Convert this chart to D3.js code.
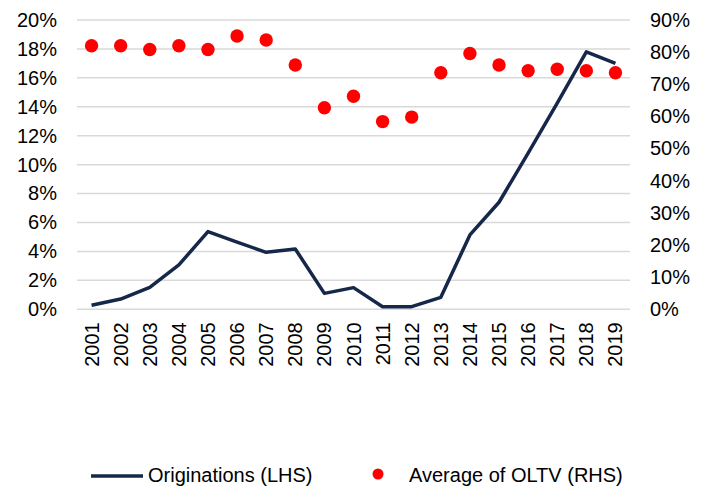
<!DOCTYPE html>
<html>
<head>
<meta charset="utf-8">
<script src="https://cdn.jsdelivr.net/npm/d3@7"></script>
<style>
  body { margin: 0; background: white; }
  text { font-family: "Liberation Sans", Arial, sans-serif; fill: #000; }
</style>
</head>
<body>
<div id="chart"></div>
<script>
const years = ["2001", "2002", "2003", "2004", "2005", "2006", "2007", "2008", "2009", "2010",
  "2011", "2012", "2013", "2014", "2015", "2016", "2017", "2018", "2019"];

// originations, share (left axis)
const originations = [0.0028, 0.0071, 0.0152, 0.0307, 0.0537, 0.0464, 0.0394, 0.0417, 0.011, 0.015,
  0.0018, 0.0018, 0.0083, 0.0514, 0.074, 0.108, 0.1426, 0.178, 0.170];

// average OLTV (right axis)
const avgOltv = [0.82, 0.82, 0.808, 0.82, 0.808, 0.85, 0.838, 0.76, 0.627, 0.663,
  0.584, 0.598, 0.736, 0.796, 0.76, 0.742, 0.747, 0.742, 0.736];

const leftTicks = [0, 0.02, 0.04, 0.06, 0.08, 0.1, 0.12, 0.14, 0.16, 0.18, 0.2];
const rightTicks = [0, 0.1, 0.2, 0.3, 0.4, 0.5, 0.6, 0.7, 0.8, 0.9];

const legendLabels = ["Originations (LHS)", "Average of OLTV (RHS)"];

const layout = {
  width: 707,
  height: 488,
  plotLeft: 77,
  plotRight: 630,
  plotTop: 20,
  plotBottom: 309.3,
  fontSize: 20
};

const lineColor = "#15284a";
const dotColor = "#ff0000";
const gridColor = "#d9d9d9";

let svg = d3.select("#chart").append("svg")
  .attr("width", layout.width)
  .attr("height", layout.height)
  .attr("viewBox", [0, 0, layout.width, layout.height].join(" "));

let x = d3.scaleBand()
  .domain(years)
  .range([layout.plotLeft, layout.plotRight])
  .padding(0);

let yLeft = d3.scaleLinear()
  .domain([0, 0.2])
  .range([layout.plotBottom, layout.plotTop]);

let yRight = d3.scaleLinear()
  .domain([0, 0.9])
  .range([layout.plotBottom, layout.plotTop]);

const pct = d3.format(".0%");

// gridlines (from left axis ticks)
svg.append("g")
  .selectAll("line")
  .data(leftTicks)
  .join("line")
  .attr("x1", layout.plotLeft)
  .attr("x2", layout.plotRight)
  .attr("y1", d => yLeft(d))
  .attr("y2", d => yLeft(d))
  .attr("stroke", gridColor)
  .attr("stroke-width", 1.5);

// left axis
let leftAxis = svg.append("g")
  .attr("transform", `translate(${layout.plotLeft - 20},0)`)
  .call(d3.axisLeft(yLeft).tickValues(leftTicks).tickFormat(pct).tickSize(0).tickPadding(0));
leftAxis.select(".domain").remove();
leftAxis.selectAll("text")
  .attr("font-size", layout.fontSize)
  .attr("font-family", "Liberation Sans, Arial, sans-serif")
  .attr("fill", "#000");

// right axis
let rightAxis = svg.append("g")
  .attr("transform", `translate(${layout.plotRight + 20},0)`)
  .call(d3.axisRight(yRight).tickValues(rightTicks).tickFormat(pct).tickSize(0).tickPadding(0));
rightAxis.select(".domain").remove();
rightAxis.selectAll("text")
  .attr("font-size", layout.fontSize)
  .attr("font-family", "Liberation Sans, Arial, sans-serif")
  .attr("fill", "#000");

// x axis, rotated year labels
let xAxis = svg.append("g")
  .attr("transform", `translate(0,${layout.plotBottom})`)
  .call(d3.axisBottom(x).tickSize(0).tickPadding(0));
xAxis.select(".domain").remove();
xAxis.selectAll("text")
  .attr("font-size", layout.fontSize)
  .attr("font-family", "Liberation Sans, Arial, sans-serif")
  .attr("fill", "#000")
  .attr("text-anchor", "end")
  .attr("transform", "rotate(-90)")
  .attr("x", -13)
  .attr("y", 0)
  .attr("dy", "0.35em");

// originations line
svg.append("path")
  .datum(originations)
  .attr("fill", "none")
  .attr("stroke", lineColor)
  .attr("stroke-width", 3.5)
  .attr("stroke-linejoin", "round")
  .attr("d", d3.line()
    .x((d, i) => x(years[i]) + x.bandwidth() / 2)
    .y(d => yLeft(d)));

// OLTV dots
svg.append("g")
  .selectAll("circle")
  .data(avgOltv)
  .join("circle")
  .attr("cx", (d, i) => x(years[i]) + x.bandwidth() / 2)
  .attr("cy", d => yRight(d))
  .attr("r", 6.7)
  .attr("fill", dotColor);

// legend
let legend = svg.append("g");
legend.append("line")
  .attr("x1", 91).attr("x2", 143)
  .attr("y1", 476).attr("y2", 476)
  .attr("stroke", lineColor)
  .attr("stroke-width", 3.5);
legend.append("text")
  .attr("x", 148)
  .attr("y", 482)
  .attr("font-size", layout.fontSize)
  .text(legendLabels[0]);
legend.append("circle")
  .attr("cx", 378)
  .attr("cy", 474)
  .attr("r", 5.5)
  .attr("fill", dotColor);
legend.append("text")
  .attr("x", 409)
  .attr("y", 482)
  .attr("font-size", layout.fontSize)
  .text(legendLabels[1]);
</script>
</body>
</html>
